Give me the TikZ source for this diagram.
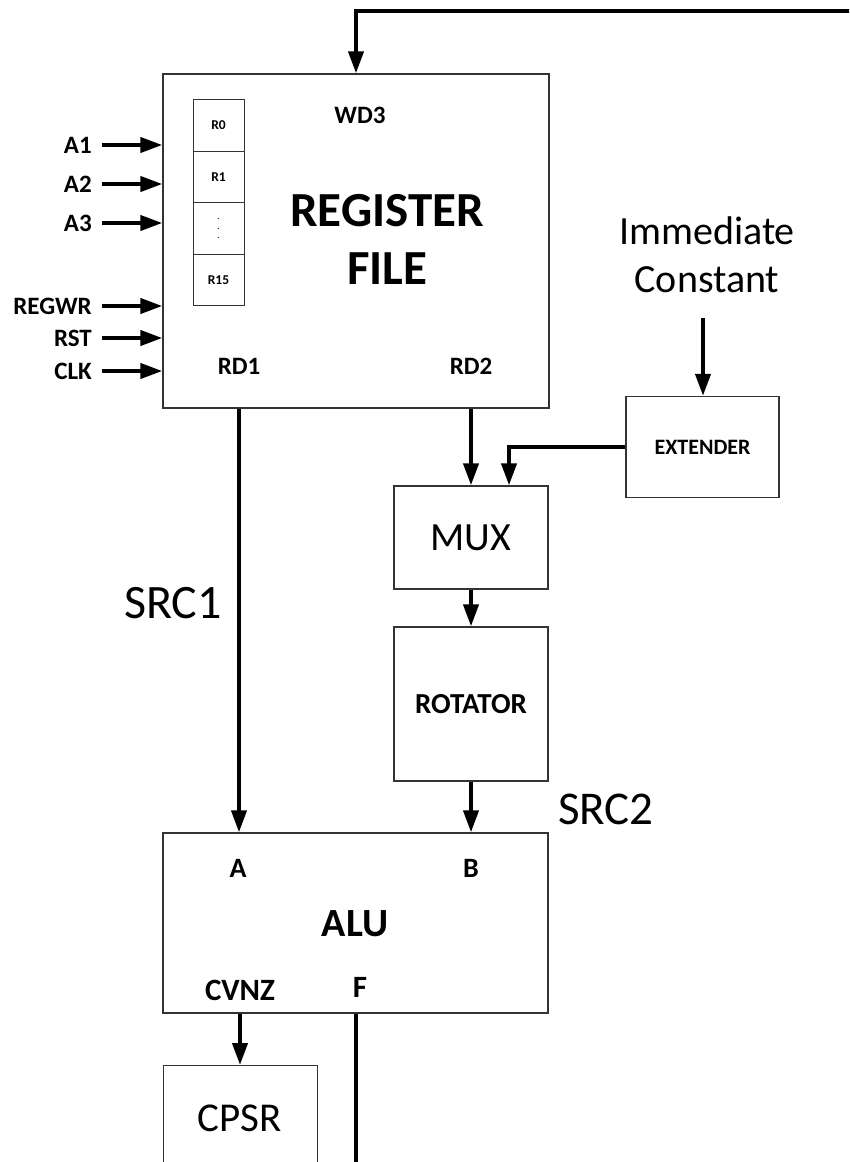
\documentclass[tikz,border=0pt]{standalone}
\usepackage{fontspec}
\setmainfont{Carlito}
\usetikzlibrary{arrows.meta,calc}
\newcommand{\fs}[1]{\fontsize{#1}{#1}\selectfont}
\begin{document}
\begin{tikzpicture}[x=1pt,y=-1pt,
  box/.style={draw=black!80, line width=1.3pt, inner sep=0pt, anchor=center},
  cell/.style={draw=black!80, line width=1pt, inner sep=0pt, minimum width=51pt, minimum height=51.5pt, font=\bfseries\fs{13.5}},
  conn/.style={line width=4pt, -{Triangle[length=22pt,width=15pt]}},
  wire/.style={line width=4pt},
  lbl/.style={inner sep=0pt, font=\bfseries\fs{#1}},
  rlbl/.style={inner sep=0pt, font=\fs{#1}}
]
\useasboundingbox (0,0) rectangle (849,1162);
\clip (0,0) rectangle (849,1162);
\fill[white] (0,0) rectangle (849,1162);

% Register file
\node[box, minimum width=386pt, minimum height=334pt] (rf) at (356,241) {};
\node[cell] (r0) at (218.5,125.5) {R0};
\node[cell] (r1) at (218.5,177) {R1};
\node[cell, align=center, font=\fontsize{10}{9.5}\selectfont] (rdots) at (218.5,228.5) {.\\.\\.};
\node[cell] (r15) at (218.5,280) {R15};
\node[lbl=49] (regt) at (387,211) {REGISTER};
\node[lbl=49] (filet) at (387.5,269) {FILE};
\node[lbl=25] (wd3) at (360,115) {WD3};
\node[lbl=25] (rd1) at (239,366) {RD1};
\node[lbl=25] (rd2) at (471,366) {RD2};

% input pins
\foreach \t/\y in {A1/145,A2/184,A3/223,REGWR/306,RST/338,CLK/371}{
  \node[lbl=25, anchor=east] (l\t) at (92,\y) {\t};
  \draw[conn, shorten <=10pt] (l\t.east) -- (l\t.east -| rf.west);
}

% top feedback wire
\coordinate (topr) at (860,11);
\draw[conn] (topr) -| (rf.north);

% Immediate constant / extender
\node[rlbl=40, align=center] (imm) at (707,255) {Immediate\\[8pt]Constant};
\node[box, minimum width=153pt, minimum height=101pt, font=\bfseries\fs{22}] (ext) at (702.5,447) {EXTENDER};
\coordinate (immb) at (703,318);
\draw[conn] (immb) -- (immb |- ext.north);

% MUX, rotator
\node[box, minimum width=154pt, minimum height=103pt, font=\fs{40}] (mux) at (471,537.5) {MUX};
\node[box, minimum width=154pt, minimum height=154pt, font=\bfseries\fs{29}] (rot) at (471,704) {ROTATOR};

\draw[conn] (rd2 |- rf.south) -- (rd2 |- mux.north);
\draw[conn] (ext.west) -| ($(mux.north)+(38,0)$);
\draw[conn] (mux.south) -- (rot.north);

% ALU
\node[box, minimum width=385pt, minimum height=180pt] (alu) at (355.5,923) {};
\node[lbl=28] (ina) at (238,868) {A};
\node[lbl=28] (inb) at (471,868) {B};
\node[lbl=40] (alut) at (355,924) {ALU};
\node[lbl=31] (cvnz) at (240,990) {CVNZ};
\node[lbl=31] (fout) at (360,987) {F};

\draw[conn] (rot.south) -- (rot.south |- alu.north);
\draw[conn] (rd1 |- rf.south) -- (rd1 |- alu.north);

\node[rlbl=48] (src1) at (173,603) {SRC1};
\node[rlbl=47] (src2) at (606,809) {SRC2};

% CPSR
\node[box, minimum width=154pt, minimum height=140pt, anchor=north west] (cpsr) at (163,1065) {};
\node[rlbl=41] (cpsrt) at (240,1118) {CPSR};
\draw[conn] (cvnz |- alu.south) -- (cvnz |- cpsr.north);

% F output
\coordinate (fend) at (356,1170);
\draw[wire] (fend |- alu.south) -- (fend);
\end{tikzpicture}
\end{document}
